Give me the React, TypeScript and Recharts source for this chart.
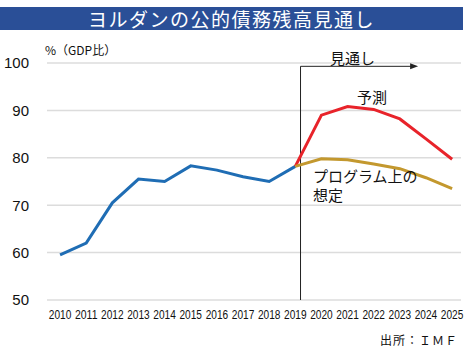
import React from 'react';
import { LineChart, Line, XAxis, YAxis, CartesianGrid, ReferenceLine } from 'recharts';

const years = [2010, 2011, 2012, 2013, 2014, 2015, 2016, 2017, 2018, 2019, 2020, 2021, 2022, 2023, 2024, 2025];
const actual = [59.5, 62.0, 70.5, 75.5, 75.0, 78.3, 77.4, 76.0, 75.0, 78.2, null, null, null, null, null, null];
const forecast = [null, null, null, null, null, null, null, null, null, 78.2, 89.0, 90.8, 90.2, 88.2, 84.0, 79.7];
const program = [null, null, null, null, null, null, null, null, null, 78.2, 79.8, 79.6, 78.7, 77.7, 75.8, 73.5];
const yTicks = [50, 60, 70, 80, 90, 100];

const data = years.map((year, i) => ({
    year,
    actual: actual[i],
    forecast: forecast[i],
    program: program[i],
}));

const FONT = '"Noto Sans CJK JP", "Noto Sans", sans-serif';

const ArrowShape = (props: any) => {
    const { x1, y1, x2, y2 } = props;
    return (
        <g>
            <line x1={x1} y1={y1} x2={x2 - 6} y2={y2} stroke="#222" strokeWidth={1} />
            <polygon points={`${x2},${y2} ${x2 - 8},${y2 - 3} ${x2 - 8},${y2 + 3}`} fill="#222" />
        </g>
    );
};

// narrow year labels, the reference uses a condensed face
const YearTick = (props: any) => {
    const { x, y, payload } = props;
    return (
        <text
            x={x}
            y={y + 11}
            textAnchor="middle"
            fontSize={12.5}
            fill="#111"
            fontFamily='"Liberation Sans", sans-serif'
            textLength={22.5}
            lengthAdjust="spacingAndGlyphs"
        >
            {payload.value}
        </text>
    );
};

const App: React.FC = () => {
    return (
        <div style={{ position: 'absolute', left: 0, top: 0, width: 465, height: 353, background: '#fff', fontFamily: FONT }}>
            <div
                style={{
                    position: 'absolute',
                    left: 0,
                    top: 7,
                    width: 463,
                    height: 23,
                    background: '#2A4F97',
                    color: '#fff',
                    fontSize: 19,
                    lineHeight: '23px',
                    textAlign: 'center',
                    letterSpacing: 1.5,
                }}
            >
                ヨルダンの公的債務残高見通し
            </div>
            <LineChart
                width={465}
                height={353}
                data={data}
                margin={{ top: 63, right: 4, bottom: 23, left: 0 }}
            >
                <CartesianGrid horizontal vertical={false} stroke="#dcdcdc" strokeWidth={1.5} />
                <XAxis
                    dataKey="year"
                    type="number"
                    domain={[2009.5, 2025.34]}
                    allowDataOverflow
                    ticks={years}
                    interval={0}
                    axisLine={false}
                    tickLine={false}
                    height={30}
                    tick={<YearTick />}
                />
                <YAxis
                    domain={[50, 100]}
                    ticks={yTicks}
                    axisLine={false}
                    tickLine={false}
                    width={47}
                    tickMargin={12}
                    tick={{ fill: '#111', fontSize: 15, fontFamily: '"Liberation Sans", sans-serif' }}
                />
                <ReferenceLine
                    segment={[{ x: 2019.2, y: 50 }, { x: 2019.2, y: 99.3 }]}
                    stroke="#222"
                    strokeWidth={1}
                />
                <ReferenceLine
                    segment={[{ x: 2019.2, y: 99.3 }, { x: 2023.7, y: 99.3 }]}
                    shape={ArrowShape}
                />
                <Line dataKey="actual" stroke="#1F6DB4" strokeWidth={3} dot={false} isAnimationActive={false} connectNulls={false} />
                <Line dataKey="forecast" stroke="#E8232A" strokeWidth={3} dot={false} isAnimationActive={false} connectNulls={false} />
                <Line dataKey="program" stroke="#C3982E" strokeWidth={3} dot={false} isAnimationActive={false} connectNulls={false} />
            </LineChart>
            <div style={{ position: 'absolute', left: 45, top: 41, fontSize: 12, color: '#111' }}>%（GDP比）</div>
            <div style={{ position: 'absolute', left: 330, top: 47, fontSize: 15, color: '#111' }}>見通し</div>
            <div style={{ position: 'absolute', left: 357, top: 86, fontSize: 15, color: '#111' }}>予測</div>
            <div style={{ position: 'absolute', left: 313, top: 168, fontSize: 15, lineHeight: '16px', height: 16, color: '#111' }}>プログラム上の</div>
            <div style={{ position: 'absolute', left: 313, top: 187, fontSize: 15, lineHeight: '16px', height: 16, color: '#111' }}>想定</div>
            <div style={{ position: 'absolute', left: 380, top: 331, fontSize: 12, color: '#111', letterSpacing: 1 }}>出所：ＩＭＦ</div>
        </div>
    );
};

export default App;
